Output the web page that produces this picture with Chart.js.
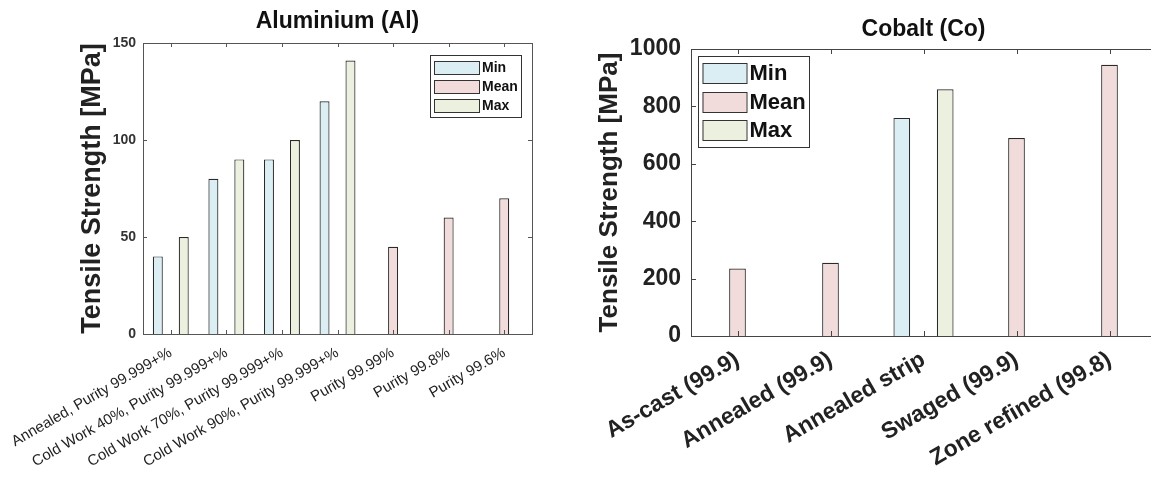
<!DOCTYPE html>
<html lang="en">
<head>
    <meta charset="UTF-8">
    <script src="https://cdn.jsdelivr.net/npm/chart.js@4.4.0/dist/chart.umd.min.js"></script>
    <title>tensile strength</title>
    <style>
        body { margin: 0; background: #fff; overflow: hidden; width: 1151px; height: 479px; position: relative; }
        canvas { position: absolute; top: 0; }
        #alChart { left: 0; }
        #coChart { left: 580px; }
    </style>
</head>
<body>
    <canvas id="alChart" width="560" height="479"></canvas>
    <canvas id="coChart" width="580" height="479"></canvas>
    <script>
        // data
        const alCategories = ['Annealed, Purity 99.999+%', 'Cold Work 40%, Purity 99.999+%', 'Cold Work 70%, Purity 99.999+%',
            'Cold Work 90%, Purity 99.999+%', 'Purity 99.99%', 'Purity 99.8%', 'Purity 99.6%'];
        const alMin = [40, 80, 90, 120, null, null, null];
        const alMean = [null, null, null, null, 45, 60, 70];
        const alMax = [50, 90, 100, 141, null, null, null];
        const alTicks = [0, 50, 100, 150];

        const coCategories = ['As-cast (99.9)', 'Annealed (99.9)', 'Annealed strip', 'Swaged (99.9)', 'Zone refined (99.8)'];
        const coMin = [null, null, 760, null, null];
        const coMean = [235, 255, null, 690, 945];
        const coMax = [null, null, 860, null, null];
        const coTicks = [0, 200, 400, 600, 800, 1000];

        const FONT = "'Liberation Sans', Arial, sans-serif";
        const MIN_COL = '#dbeef4';
        const MEAN_COL = '#f2dcdb';
        const MAX_COL = '#ebf1de';

        // box around the plot + inward tick marks (matlab look)
        const boxTicks = {
            id: 'boxTicks',
            afterDatasetsDraw(chart, args, opts) {
                const ctx = chart.ctx, a = chart.chartArea;
                const xs = chart.scales.x, ys = chart.scales.y;
                ctx.save();
                ctx.strokeStyle = opts.color;
                ctx.lineWidth = 1;
                ctx.strokeRect(Math.round(a.left) + 0.5, Math.round(a.top) + 0.5,
                    Math.round(a.right - a.left), Math.round(a.bottom - a.top));
                ctx.beginPath();
                chart.data.labels.forEach((l, i) => {
                    const x = Math.round(xs.getPixelForValue(i)) + 0.5;
                    ctx.moveTo(x, a.bottom); ctx.lineTo(x, a.bottom - opts.len);
                    ctx.moveTo(x, a.top); ctx.lineTo(x, a.top + opts.len);
                });
                ys.ticks.forEach(t => {
                    const y = Math.round(ys.getPixelForValue(t.value)) + 0.5;
                    ctx.moveTo(a.left, y); ctx.lineTo(a.left + opts.len, y);
                    ctx.moveTo(a.right, y); ctx.lineTo(a.right - opts.len, y);
                });
                ctx.stroke();
                ctx.restore();
            }
        };

        // legend drawn inside the plot area
        const boxLegend = {
            id: 'boxLegend',
            afterDraw(chart, args, o) {
                const ctx = chart.ctx, a = chart.chartArea;
                const sets = chart.data.datasets;
                ctx.save();
                ctx.font = `bold ${o.size}px ${FONT}`;
                const tw = Math.max(...sets.map(d => ctx.measureText(d.label).width));
                const w = o.pad + o.swW + o.gap + tw + o.padR;
                const h = sets.length * o.rowH + o.padV * 2;
                const x = Math.round(o.side === 'right' ? a.right - o.dx - w : a.left + o.dx);
                const y = Math.round(a.top + o.dy);
                ctx.fillStyle = '#fff';
                ctx.fillRect(x, y, w, h);
                ctx.strokeStyle = '#333';
                ctx.lineWidth = 1;
                ctx.strokeRect(x + 0.5, y + 0.5, Math.round(w), Math.round(h));
                ctx.textBaseline = 'middle';
                sets.forEach((d, i) => {
                    const cy = y + o.padV + o.rowH * (i + 0.5);
                    const sy = Math.round(cy - o.swH / 2);
                    ctx.fillStyle = d.backgroundColor;
                    ctx.fillRect(x + o.pad, sy, o.swW, o.swH);
                    ctx.strokeStyle = '#333';
                    ctx.strokeRect(x + o.pad + 0.5, sy + 0.5, o.swW, o.swH);
                    ctx.fillStyle = '#111';
                    ctx.fillText(d.label, x + o.pad + o.swW + o.gap, cy + 1);
                });
                ctx.restore();
            }
        };

        function makeDatasets(mins, means, maxs) {
            const base = { borderColor: '#2a2a2a', borderWidth: 1.2, categoryPercentage: 0.7, barPercentage: 0.77 };
            return [
                { ...base, label: 'Min', data: mins, backgroundColor: MIN_COL },
                { ...base, label: 'Mean', data: means, backgroundColor: MEAN_COL },
                { ...base, label: 'Max', data: maxs, backgroundColor: MAX_COL },
            ];
        }

        function makeChart(id, cfg) {
            return new Chart(document.getElementById(id), {
                type: 'bar',
                data: { labels: cfg.labels, datasets: makeDatasets(cfg.min, cfg.mean, cfg.max) },
                plugins: [boxTicks, boxLegend],
                options: {
                    responsive: false,
                    animation: false,
                    devicePixelRatio: 1,
                    layout: { padding: { left: 0, right: cfg.padRight, top: 0, bottom: 0 } },
                    plugins: {
                        legend: { display: false },
                        tooltip: { enabled: false },
                        title: {
                            display: true,
                            text: cfg.title,
                            fullSize: false,
                            color: '#111',
                            font: { family: FONT, size: cfg.titleSize, weight: 'bold', lineHeight: 1.2 },
                            padding: cfg.titlePad,
                        },
                        boxTicks: { color: cfg.axisColor, len: cfg.tickLen },
                        boxLegend: cfg.legend,
                    },
                    scales: {
                        x: {
                            grid: { display: false },
                            border: { display: false },
                            afterFit: s => { s.height = cfg.xHeight; },
                            ticks: {
                                autoSkip: false,
                                minRotation: 30,
                                maxRotation: 30,
                                padding: cfg.xPad,
                                color: '#222',
                                font: { family: FONT, size: cfg.xSize, weight: cfg.xWeight },
                            },
                        },
                        y: {
                            min: 0,
                            max: cfg.ticks[cfg.ticks.length - 1],
                            grid: { display: false, drawTicks: false },
                            border: { display: false },
                            afterFit: s => { s.width = cfg.yWidth; },
                            afterBuildTicks: s => { s.ticks = cfg.ticks.map(v => ({ value: v })); },
                            ticks: {
                                padding: cfg.yPad,
                                color: cfg.yColor,
                                font: { family: FONT, size: cfg.ySize, weight: 'bold' },
                                callback: v => String(v),
                            },
                            title: {
                                display: true,
                                text: 'Tensile Strength [MPa]',
                                color: '#222',
                                font: { family: FONT, size: cfg.yTitleSize, weight: 'bold', lineHeight: 1.2 },
                                padding: { top: cfg.yTitlePad, bottom: 0 },
                            },
                        },
                    },
                },
            });
        }

        makeChart('alChart', {
            labels: alCategories, min: alMin, mean: alMean, max: alMax, ticks: alTicks,
            title: 'Aluminium (Al)', titleSize: 23, titlePad: { top: 8, bottom: 7.4 },
            padRight: 28, xHeight: 145, yWidth: 143, yTitleSize: 27, yTitlePad: 76.5,
            xSize: 15, xWeight: 'normal', xPad: 2, ySize: 14, yPad: 7, yColor: '#333',
            axisColor: '#555', tickLen: 4,
            legend: { side: 'right', dx: 11, dy: 12, size: 14, pad: 4, swW: 45, swH: 13, gap: 3, padR: 3, rowH: 19, padV: 2.5 },
        });

        makeChart('coChart', {
            labels: coCategories, min: coMin, mean: coMean, max: coMax, ticks: coTicks,
            title: 'Cobalt (Co)', titleSize: 23, titlePad: { top: 16.2, bottom: 5.2 },
            padRight: 4, xHeight: 143, yWidth: 111, yTitleSize: 26, yTitlePad: 14,
            xSize: 23, xWeight: 'bold', xPad: 2, ySize: 23, yPad: 10, yColor: '#222',
            axisColor: '#444', tickLen: 5,
            legend: { side: 'left', dx: 7, dy: 7, size: 22, pad: 4.5, swW: 44, swH: 20, gap: 3, padR: 3, rowH: 28.5, padV: 2.75 },
        });
    </script>
</body>
</html>
